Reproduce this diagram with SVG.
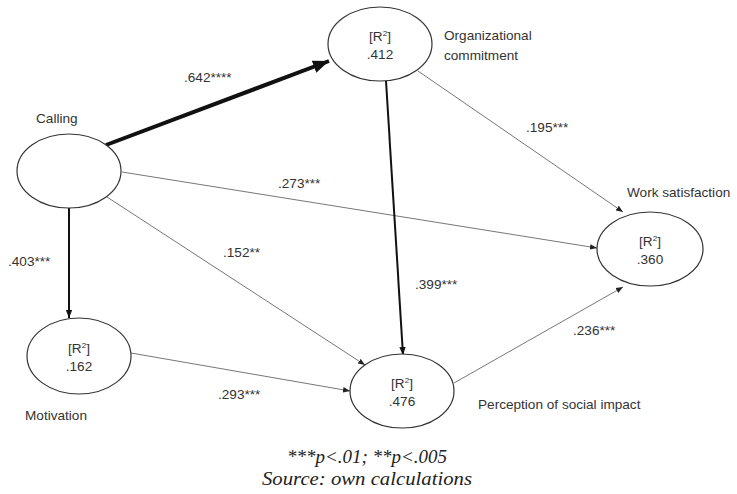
<svg xmlns="http://www.w3.org/2000/svg" width="737" height="494" viewBox="0 0 737 494">
<style>
  .node ellipse { fill: #ffffff; stroke: #333333; stroke-width: 1.2; }
  .lbl { font-family: "Liberation Sans", Arial, sans-serif; font-size: 13.6px; fill: #333333; }
  .in { font-family: "Liberation Sans", Arial, sans-serif; font-size: 13.6px; fill: #333333; text-anchor: middle; }
  .sup { font-size: 8px; }
  .thin { stroke: #777777; stroke-width: 1; fill: none; marker-end: url(#ahs); }
  .mid { stroke: #111111; stroke-width: 2; fill: none; marker-end: url(#ahm); }
  .thick { stroke: #111111; stroke-width: 4; fill: none; marker-end: url(#ahl); }
  .foot { font-family: "Liberation Serif", "Times New Roman", serif; font-style: italic; font-size: 19px; fill: #222222; text-anchor: middle; }
</style>
<defs>
  <marker id="ahs" viewBox="0 0 10 10" refX="10" refY="5" markerWidth="7" markerHeight="7" markerUnits="userSpaceOnUse" orient="auto">
    <path d="M0,1 L10,5 L0,9 z" fill="#222222"/>
  </marker>
  <marker id="ahm" viewBox="0 0 10 10" refX="10" refY="5" markerWidth="8" markerHeight="8" markerUnits="userSpaceOnUse" orient="auto">
    <path d="M0,1 L10,5 L0,9 z" fill="#111111"/>
  </marker>
  <marker id="ahl" viewBox="0 0 10 10" refX="10" refY="5" markerWidth="16" markerHeight="16" markerUnits="userSpaceOnUse" orient="auto">
    <path d="M0,1 L10,5 L0,9 z" fill="#111111"/>
  </marker>
</defs>
<rect width="737" height="494" fill="#ffffff"/>

<g id="connectors">
  <line class="thick" x1="106" y1="145" x2="329" y2="61"/>
  <line class="thin" x1="122" y1="172" x2="597" y2="248"/>
  <line class="thin" x1="107" y1="197" x2="365" y2="365"/>
  <line class="mid" x1="69" y1="208" x2="69" y2="318"/>
  <line class="mid" x1="386" y1="81" x2="403" y2="355"/>
  <line class="thin" x1="418" y1="71" x2="623" y2="212"/>
  <line class="thin" x1="454" y1="383" x2="623" y2="287"/>
  <line class="thin" x1="131" y1="353" x2="350" y2="391"/>
  <text class="lbl" x="184" y="82">.642****</text>
  <text class="lbl" x="278" y="188">.273***</text>
  <text class="lbl" x="526" y="132">.195***</text>
  <text class="lbl" x="8" y="266">.403***</text>
  <text class="lbl" x="223" y="257">.152**</text>
  <text class="lbl" x="415" y="289">.399***</text>
  <text class="lbl" x="573" y="335">.236***</text>
  <text class="lbl" x="218" y="399">.293***</text>
</g>

<g id="calling" class="node">
  <ellipse cx="69" cy="171" rx="52" ry="37"/>
  <text class="lbl" x="36" y="123">Calling</text>
</g>

<g id="org-commitment" class="node">
  <ellipse cx="380" cy="44" rx="52" ry="37"/>
  <text class="in" x="380" y="41">[R<tspan class="sup" dy="-5">2</tspan><tspan dy="5">]</tspan></text>
  <text class="in" x="380" y="59">.412</text>
  <text class="lbl" x="444" y="40">Organizational</text>
  <text class="lbl" x="444" y="60">commitment</text>
</g>

<g id="work-satisfaction" class="node">
  <ellipse cx="650" cy="249" rx="53" ry="37"/>
  <text class="in" x="650" y="246">[R<tspan class="sup" dy="-5">2</tspan><tspan dy="5">]</tspan></text>
  <text class="in" x="650" y="264">.360</text>
  <text class="lbl" x="627" y="197">Work satisfaction</text>
</g>

<g id="motivation" class="node">
  <ellipse cx="79" cy="356" rx="52" ry="38"/>
  <text class="in" x="79" y="353">[R<tspan class="sup" dy="-5">2</tspan><tspan dy="5">]</tspan></text>
  <text class="in" x="79" y="371">.162</text>
  <text class="lbl" x="25" y="420">Motivation</text>
</g>

<g id="social-impact" class="node">
  <ellipse cx="402" cy="391" rx="52" ry="37"/>
  <text class="in" x="402" y="388">[R<tspan class="sup" dy="-5">2</tspan><tspan dy="5">]</tspan></text>
  <text class="in" x="402" y="406">.476</text>
  <text class="lbl" x="478" y="409">Perception of social impact</text>
</g>

<g id="footnote">
  <text class="foot" x="367" y="463" textLength="160" lengthAdjust="spacingAndGlyphs">***p&lt;.01; **p&lt;.005</text>
  <text class="foot" x="367" y="485" textLength="210" lengthAdjust="spacingAndGlyphs">Source: own calculations</text>
</g>
</svg>
